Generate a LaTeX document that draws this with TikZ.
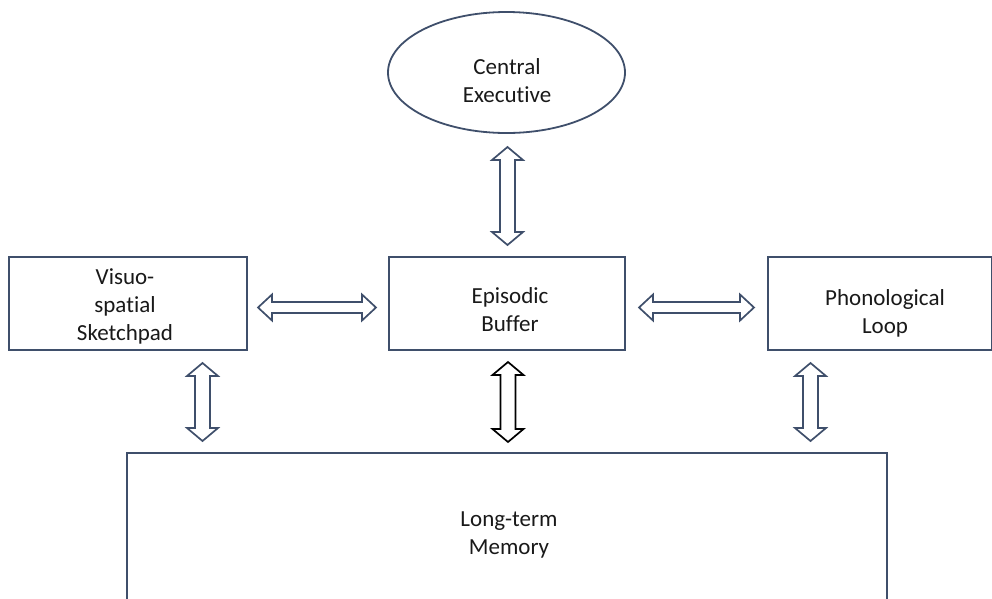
\documentclass[tikz,border=0pt]{standalone}
\usepackage{fontspec}
\setmainfont[Ligatures=NoCommon]{Carlito}
\usetikzlibrary{shapes.geometric}
\definecolor{navy}{HTML}{3F4F6B}
\tikzset{
  unitbox/.style={draw=navy, line width=1.8pt, fill=white, inner sep=0pt},
  lbl/.style={align=center, font=\fontsize{23}{28}\selectfont, text=black!90, inner sep=0pt},
  barrow/.style={draw=navy, line width=1.7pt, fill=white, line join=miter},
}
% vertical two-headed block arrow: centre x, top y, bottom y, style
\newcommand\vbiarrow[4]{%
  \draw[#4] (#1,#2) -- ++(15.5,13) -- ++(-8,0) -- (#1+7.5,#3-13) -- ++(8,0)
    -- (#1,#3) -- ++(-15.5,-13) -- ++(8,0) -- (#1-7.5,#2+13) -- ++(-8,0) -- cycle;}
% horizontal two-headed block arrow: left x, right x, centre y, style
\newcommand\hbiarrow[4]{%
  \draw[#4] (#1,#3) -- ++(14,-13) -- ++(0,7.5) -- (#2-14,#3-5.5) -- ++(0,-7.5)
    -- (#2,#3) -- ++(-14,13) -- ++(0,-7.5) -- (#1+14,#3+5.5) -- ++(0,7.5) -- cycle;}
\begin{document}
\begin{tikzpicture}[x=1pt,y=-1pt]
\useasboundingbox (0,0) rectangle (992,598);

% components
\node[unitbox, ellipse, minimum width=237, minimum height=121] (ce) at (506.5,72.5) {};
\node[lbl] (cetext) at (507,81) {Central\\Executive};

\node[unitbox, minimum width=238, minimum height=93] (vs) at (128,303.5) {};
\node[lbl] (vstext) at (125,306) {Visuo-\\spatial\\Sketchpad};

\node[unitbox, minimum width=236, minimum height=93] (eb) at (507,303.5) {};
\node[lbl] (ebtext) at (510,310) {Episodic\\Buffer};

\node[unitbox, minimum width=224, minimum height=93] (pl) at (880,303.5) {};
\node[lbl] (pltext) at (885,313) {Phonological\\Loop};

\draw[draw=navy, line width=1.8pt] (127,610) coordinate (ltmbl) |- (887,453) coordinate (ltmtr) -- (887,610);
\node[lbl] (ltmtext) at (509,535) {Long-term\\Memory};

% links
\vbiarrow{507.5}{147}{245}{barrow}
\hbiarrow{258}{376}{307.5}{barrow}
\hbiarrow{639}{754}{307.5}{barrow}
\vbiarrow{202.5}{363}{441}{barrow}
\vbiarrow{508}{362}{442}{barrow, draw=black}
\vbiarrow{810.5}{363}{441}{barrow}
\end{tikzpicture}
\end{document}
